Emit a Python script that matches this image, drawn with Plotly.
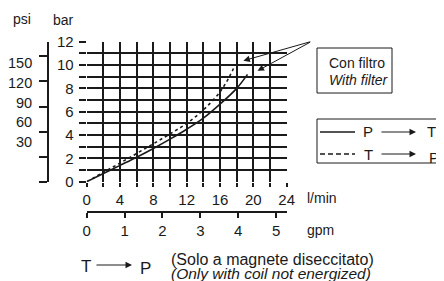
import plotly.graph_objects as go

# ---- data ----
flow_pt = [0, 2, 4, 6, 8, 10, 12, 14, 16, 18, 19.3]
press_pt = [0, 0.7, 1.4, 2.1, 2.85, 3.65, 4.5, 5.45, 6.65, 8.0, 9.2]
flow_tp = [0, 2, 4, 6, 8, 10, 12, 14, 16, 17.2, 17.8]
press_tp = [0, 0.8, 1.6, 2.42, 3.25, 4.1, 5.0, 6.15, 7.7, 9.1, 10.0]

lmin_ticks = list(range(0, 25, 2))
lmin_labels = [str(v) if v % 4 == 0 else "" for v in lmin_ticks]
bar_ticks = list(range(0, 13))
bar_labels = [str(v) if v % 2 == 0 else "" for v in bar_ticks]
gpm_ticks = [0, 1, 2, 3, 4, 5]
psi_ticks = [0, 30, 60, 90, 120, 150]
psi_labels = ["150", "120", "90", "60", "30"]
psi_label_px = [63.5, 83, 103, 122, 142]
L_PER_GAL = 4.546

# page body has an 8px margin: lay out in window pixels and shift
OFF = 8
W, H = 444 - OFF, 281 - OFF
def px(x): return (x - OFF) / W
def py(y): return 1 - (y - OFF) / H

INK = "#1a1a1a"
FONT = "Liberation Sans, Arial, sans-serif"

fig = go.Figure()
fig.add_trace(go.Scatter(x=flow_pt, y=press_pt, mode="lines",
                         line=dict(color=INK, width=1.6, shape="spline"),
                         showlegend=False, hoverinfo="skip"))
fig.add_trace(go.Scatter(x=flow_tp, y=press_tp, mode="lines",
                         line=dict(color=INK, width=1.6, shape="spline", dash="3px,3px"),
                         showlegend=False, hoverinfo="skip"))
# invisible traces for secondary axes
fig.add_trace(go.Scatter(x=[0], y=[0], xaxis="x2", yaxis="y", mode="markers",
                         marker=dict(opacity=0), showlegend=False, hoverinfo="skip"))
fig.add_trace(go.Scatter(x=[0], y=[0], xaxis="x", yaxis="y2", mode="markers",
                         marker=dict(opacity=0), showlegend=False, hoverinfo="skip"))

x0, x1 = px(86.7), px(286.7)
ybot, ytop = py(181.7), py(41.7)

fig.update_layout(
    width=W, height=H, margin=dict(l=0, r=0, t=0, b=0, autoexpand=False),
    paper_bgcolor="white", plot_bgcolor="white",
    font=dict(family=FONT, size=14, color=INK),
    xaxis=dict(domain=[x0, x1], range=[0, 24], tickmode="array", tickvals=lmin_ticks,
               ticktext=lmin_labels, showgrid=True, gridcolor=INK, gridwidth=1.6,
               ticks="outside", ticklen=4, tickcolor=INK, tickwidth=1.6, automargin=False,
               zeroline=False, showline=False, tickfont=dict(size=15), fixedrange=True),
    yaxis=dict(domain=[ybot, ytop], range=[0, 12], tickmode="array", tickvals=bar_ticks,
               ticktext=bar_labels, showgrid=True, gridcolor=INK, gridwidth=1.6,
               ticks="outside", ticklen=7, tickcolor=INK, tickwidth=1.6, automargin=False,
               zeroline=False, showline=False, tickfont=dict(size=15),
               ticklabelstandoff=2, fixedrange=True),
    xaxis2=dict(range=[0, 24 / L_PER_GAL], anchor="free", position=py(212),
                overlaying="x", side="bottom", tickmode="array", tickvals=gpm_ticks,
                showgrid=False, zeroline=False, showline=True, linecolor=INK, linewidth=1.6,
                ticks="outside", ticklen=5, tickcolor=INK, tickwidth=1.6, automargin=False,
                tickfont=dict(size=15), fixedrange=True),
    yaxis2=dict(range=[0, 139.7 / 25 * 30], anchor="free", position=px(48),
                overlaying="y", side="left", tickmode="array", tickvals=psi_ticks,
                showticklabels=False, showgrid=False, zeroline=False, showline=True,
                linecolor=INK, linewidth=1.6, ticks="outside", ticklen=8, automargin=False,
                tickcolor=INK, tickwidth=1.6, fixedrange=True),
)

ann = []
def text(x, y, s, size=14, xa="center"):
    ann.append(dict(x=px(x), y=py(y), text=s, xref="paper", yref="paper",
                    xanchor=xa, yanchor="middle", showarrow=False, font=dict(size=size)))

def harrow(xhead, y, length):
    ann.append(dict(x=px(xhead), y=py(y), ax=-length, ay=0, xref="paper", yref="paper",
                    axref="pixel", ayref="pixel", text="", showarrow=True, arrowhead=2,
                    arrowsize=1.3, arrowwidth=1, arrowcolor=INK))

# axis titles
text(22, 19, "psi")
text(63, 20, "bar")
for lab, yy in zip(psi_labels, psi_label_px):
    text(33.5, yy, lab, size=14.5, xa="right")
text(305, 198, "l/min", xa="left")
text(305, 230, "gpm", xa="left")

# "Con filtro" label box
fig.add_shape(type="rect", xref="paper", yref="paper", x0=px(317), x1=px(392),
              y0=py(93), y1=py(48), line=dict(color=INK, width=1))
text(327, 63, "Con filtro", xa="left")
text(327, 80, "<i>With filter</i>", xa="left")
# pointer arrows to the curves' ends
for hx, hy in [(18.8, 10.37), (20.5, 9.5)]:
    ann.append(dict(x=hx, y=hy, xref="x", yref="y", ax=27.0, ay=12.03, axref="x", ayref="y",
                    text="", showarrow=True, arrowhead=2, arrowsize=1.3, arrowwidth=1,
                    arrowcolor=INK))

# legend box
fig.add_shape(type="rect", xref="paper", yref="paper", x0=px(317), x1=px(443.5),
              y0=py(163), y1=py(119), line=dict(color=INK, width=1))
fig.add_shape(type="line", xref="paper", yref="paper", x0=px(320), x1=px(355),
              y0=py(132), y1=py(132), line=dict(color=INK, width=1.4))
fig.add_shape(type="line", xref="paper", yref="paper", x0=px(320), x1=px(355),
              y0=py(154), y1=py(154), line=dict(color=INK, width=1.4, dash="5px,3px"))
for yy, a, b, bdy in [(132, "P", "T", 0), (154, "T", "P", 3)]:
    text(368, yy, a, size=15)
    harrow(416, yy, 36)
    text(431 + bdy, yy + bdy, b, size=15)

# bottom note
text(86, 266.5, "T", size=17)
harrow(132, 265, 37)
text(145.5, 268.5, "P", size=17)
text(169, 259, "(Solo a magnete diseccitato)", size=16, xa="left")
text(169, 273, "<i>(Only with coil not energized)</i>", size=15.5, xa="left")

fig.update_layout(annotations=ann)
fig.write_html("out.html")
